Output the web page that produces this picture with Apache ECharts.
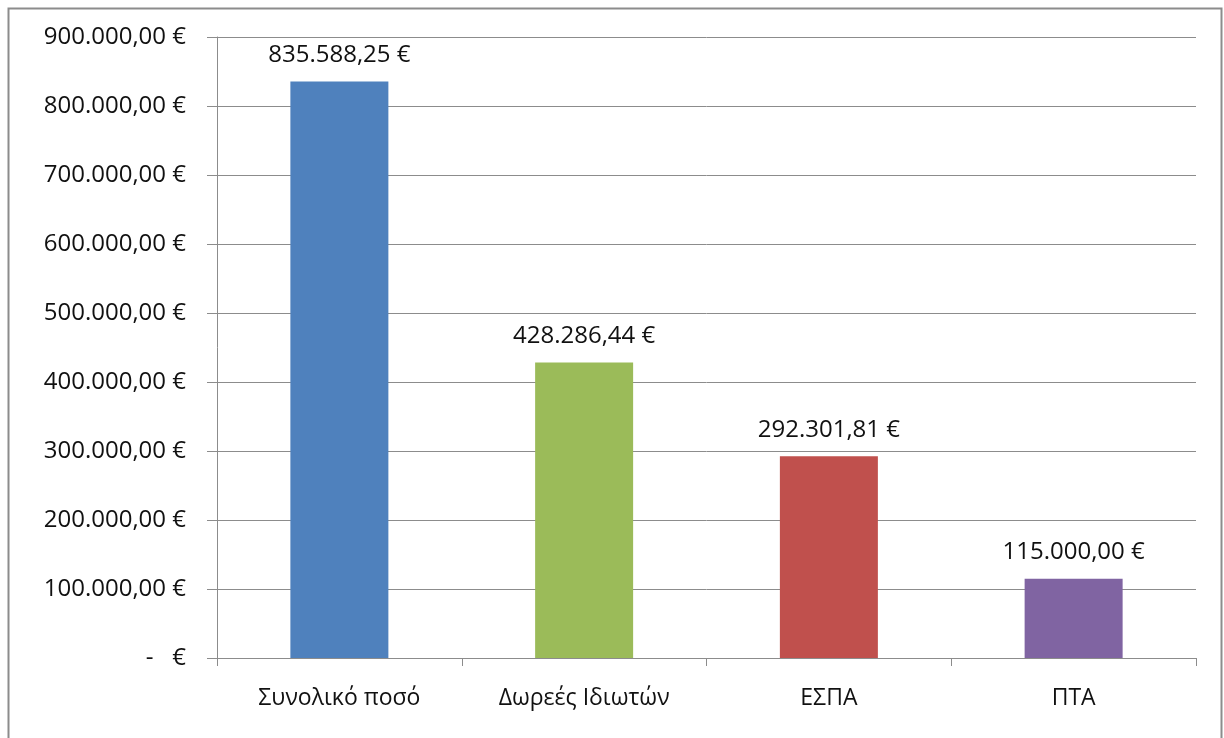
<!DOCTYPE html>
<html>
<head>
<meta charset="utf-8">
<script src="https://cdn.jsdelivr.net/npm/echarts@6/dist/echarts.min.js"></script>
<style>
html,body{margin:0;padding:0;background:#fff;}
#chart{width:1224px;height:738px;}
</style>
</head>
<body>
<div id="chart"></div>
<script>
const categories = ['Συνολικό ποσό', 'Δωρεές Ιδιωτών', 'ΕΣΠΑ', 'ΠΤΑ'];
const values = [835588.25, 428286.44, 292301.81, 115000.00];
const colors = ['#4F81BD', '#9BBB59', '#C0504D', '#8064A2'];
const yMin = 0, yMax = 900000, yStep = 100000;

function fmtEuro(v) {
  if (v === 0) return '-   €';
  const parts = v.toFixed(2).split('.');
  const intPart = parts[0].replace(/\B(?=(\d{3})+(?!\d))/g, '.');
  return intPart + ',' + parts[1] + ' €';
}

const FONT = '"Open Sans", sans-serif';
const TXT = '#111111';
const chart = echarts.init(document.getElementById('chart'), null, {renderer: 'canvas'});
chart.setOption({
  animation: false,
  backgroundColor: '#fff',
  graphic: [{
    type: 'rect',
    shape: {x: 8.5, y: 8.5, width: 1213, height: 740},
    style: {fill: 'none', stroke: '#8c8c8c', lineWidth: 2}
  }],
  grid: {left: 217, right: 28, top: 37, bottom: 80, containLabel: false},
  xAxis: {
    type: 'category',
    data: categories,
    boundaryGap: true,
    axisLine: {show: true, lineStyle: {color: '#8c8c8c', width: 1}},
    axisTick: {show: true, alignWithLabel: false, length: 8, lineStyle: {color: '#8c8c8c'}},
    axisLabel: {color: TXT, fontFamily: FONT, fontSize: 23, margin: 29}
  },
  yAxis: {
    type: 'value',
    min: yMin, max: yMax, interval: yStep,
    axisLine: {show: true, lineStyle: {color: '#8c8c8c', width: 1}},
    axisTick: {show: true, inside: false, length: 10, lineStyle: {color: '#8c8c8c'}},
    splitLine: {show: true, lineStyle: {color: '#8c8c8c', width: 1}},
    axisLabel: {color: TXT, fontFamily: FONT, fontSize: 24, margin: 31, formatter: fmtEuro}
  },
  series: [{
    type: 'bar',
    data: values.map((v, i) => ({value: v, itemStyle: {color: colors[i]}})),
    barWidth: 98,
    label: {
      show: true, position: 'top', distance: 14,
      color: TXT, fontFamily: FONT, fontSize: 24,
      formatter: p => fmtEuro(p.value)
    }
  }]
});
</script>
</body>
</html>
